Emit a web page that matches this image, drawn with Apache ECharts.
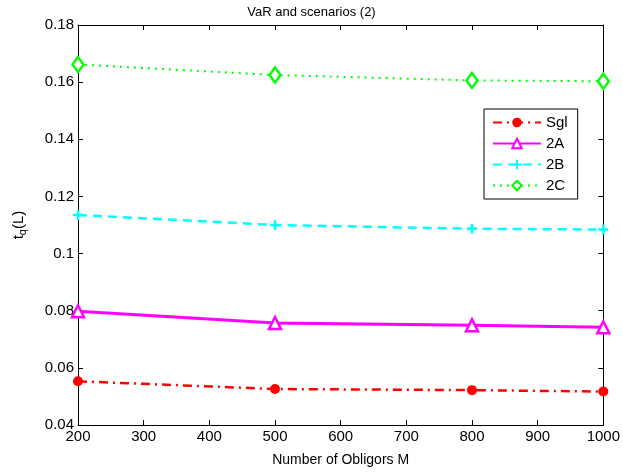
<!DOCTYPE html>
<html>
<head>
<meta charset="utf-8">
<script src="https://cdn.jsdelivr.net/npm/echarts@6/dist/echarts.min.js"></script>
<style>
html, body { margin: 0; padding: 0; background: #fff; }
#charts { width: 623px; height: 473px; }
</style>
</head>
<body>
<div id="charts"></div>
<script>
var obligors = [200, 500, 800, 1000];
var sgl = [0.0553, 0.0526, 0.0522, 0.0517];
var s2A = [0.0798, 0.0757, 0.0749, 0.0742];
var s2B = [0.1135, 0.1100, 0.1087, 0.1084];
var s2C = [0.1662, 0.1625, 0.1606, 0.1603];
var names = ['Sgl', '2A', '2B', '2C'];

function pairs(ys) {
    return obligors.map(function (x, i) { return [x, ys[i]]; });
}

var font = 'Liberation Sans, Arial, sans-serif';
var plus = 'path://M0,5L10,5M5,0L5,10';

var myChart = echarts.init(document.getElementById('charts'));
var option = {
    animation: false,
    title: {
        text: 'VaR and scenarios (2)',
        left: 'center',
        top: 1,
        textStyle: { fontFamily: font, fontSize: 13, fontWeight: 'normal', color: '#000' }
    },
    legend: {
        data: names,
        orient: 'vertical',
        left: 484,
        top: 109,
        width: 94,
        itemWidth: 48,
        itemHeight: 12,
        itemGap: 6,
        padding: [6, 10, 6, 8],
        borderColor: '#000',
        borderWidth: 1,
        backgroundColor: '#fff',
        borderRadius: 0,
        textStyle: { fontFamily: font, fontSize: 15, color: '#000' }
    },
    grid: { left: 78, right: 17, top: 25, bottom: 48, containLabel: false },
    xAxis: [
        {
            type: 'value',
            min: 200, max: 1000, interval: 100,
            name: 'Number of Obligors M',
            nameLocation: 'middle',
            nameGap: 28,
            nameTextStyle: { fontFamily: font, fontSize: 14, color: '#000' },
            axisLine: { lineStyle: { color: '#000', width: 1 } },
            axisTick: { inside: true, length: 5, lineStyle: { color: '#000' } },
            axisLabel: {
                fontFamily: font, fontSize: 15, color: '#000', margin: 4,
                formatter: function (v) { return String(v); }
            },
            splitLine: { show: false }
        },
        {
            type: 'value', position: 'top',
            min: 200, max: 1000, interval: 100,
            axisLine: { show: true, lineStyle: { color: '#000', width: 1 } },
            axisTick: { inside: true, length: 5, lineStyle: { color: '#000' } },
            axisLabel: { show: false },
            splitLine: { show: false }
        }
    ],
    yAxis: [
        {
            type: 'value',
            min: 0.04, max: 0.18, interval: 0.02,
            name: '{t|t}{s|q}{t|(L)}',
            nameLocation: 'middle',
            nameGap: 50,
            nameRotate: 90,
            nameTextStyle: {
                rich: {
                    t: { fontFamily: font, fontSize: 15, color: '#000' },
                    s: { fontFamily: font, fontSize: 11, color: '#000', verticalAlign: 'bottom', padding: [8, 0, 0, 0] }
                }
            },
            axisLine: { show: true, lineStyle: { color: '#000', width: 1 } },
            axisTick: { show: true, inside: true, length: 5, lineStyle: { color: '#000' } },
            axisLabel: {
                fontFamily: font, fontSize: 15, color: '#000', margin: 4,
                formatter: function (v) { return +v.toFixed(2) + ''; }
            },
            splitLine: { show: false }
        },
        {
            type: 'value', position: 'right',
            min: 0.04, max: 0.18, interval: 0.02,
            axisLine: { show: true, lineStyle: { color: '#000', width: 1 } },
            axisTick: { show: true, inside: true, length: 5, lineStyle: { color: '#000' } },
            axisLabel: { show: false },
            splitLine: { show: false }
        }
    ],
    series: [
        {
            name: 'Sgl', type: 'line', data: pairs(sgl),
            symbol: 'circle', symbolSize: 10,
            lineStyle: { color: '#ff0000', width: 2.5, type: [9, 5, 2, 5] },
            itemStyle: { color: '#ff0000' }
        },
        {
            name: '2A', type: 'line', data: pairs(s2A),
            symbol: 'triangle', symbolSize: 12,
            lineStyle: { color: '#ff00ff', width: 3, type: 'solid' },
            itemStyle: { color: '#ffffff', borderColor: '#ff00ff', borderWidth: 2.5 }
        },
        {
            name: '2B', type: 'line', data: pairs(s2B),
            symbol: plus, symbolSize: 10,
            lineStyle: { color: '#00ffff', width: 2.5, type: [9, 6] },
            itemStyle: { color: 'none', borderColor: '#00ffff', borderWidth: 2.5 }
        },
        {
            name: '2C', type: 'line', data: pairs(s2C),
            symbol: 'diamond', symbolSize: [11, 15],
            lineStyle: { color: '#00ff00', width: 2, type: [2, 5] },
            itemStyle: { color: '#ffffff', borderColor: '#00ff00', borderWidth: 2.5 }
        }
    ]
};

myChart.setOption(option);
</script>
</body>
</html>
